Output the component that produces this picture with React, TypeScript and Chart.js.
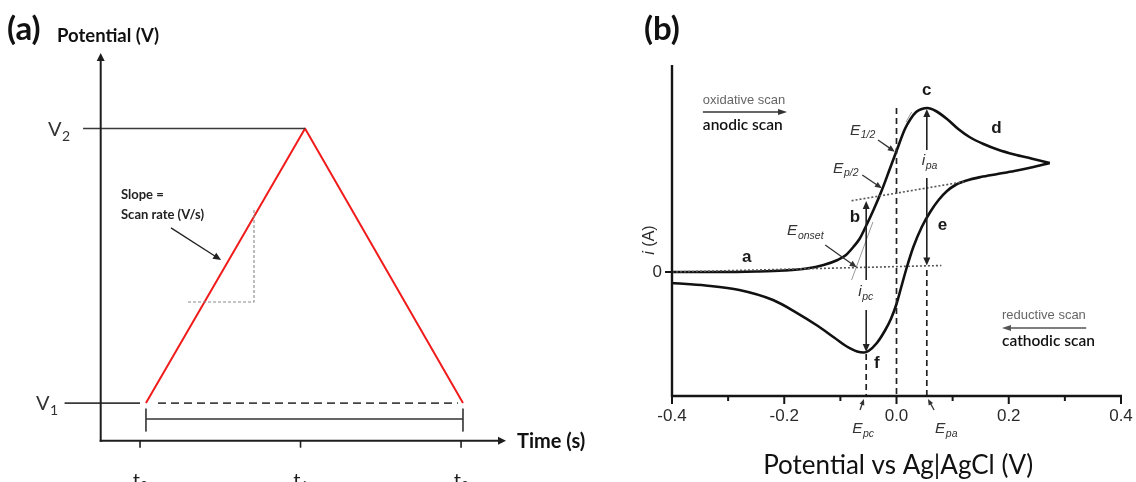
import React, { useEffect, useRef } from "react";
import { Chart, registerables } from "chart.js";
Chart.register(...registerables);

// ---------------- Panel (a): triangular potential waveform ----------------
const timeTickValues = [0, 1, 2];
const timeTickSubs = ["0", "1", "2"];
const rampTime = [0.037, 1.028, 2.012];
const rampPotential = [0, 1, 0];
const levelValues = [0, 1]; // V1, V2
const levelSubs = ["1", "2"];
const v2GuideTime = [-0.355, 1.028];
const v1SolidTime = [-0.47, 0.0];
const v1DashTime = [0.112, 1.98];
const bracketTime = [0.037, 2.012];
const bracketLevel = -0.058;
const bracketCap = [-0.022, -0.102];
const slopeBoxTime = [0.299, 0.71];
const slopeBoxPotential = [0.368, 0.71];
const slopeArrowTime = [0.193, 0.505];
const slopeArrowPotential = [0.638, 0.521];
const timeRange = [-0.245, 2.28];
const potentialRange = [-0.137, 1.275];

// ---------------- Panel (b): cyclic voltammogram ----------------
const anodicE = [-0.4, -0.32, -0.25, -0.2, -0.16, -0.13, -0.105, -0.09, -0.077, -0.066, -0.056, -0.041, -0.026, -0.012, 0.0, 0.015, 0.025, 0.035, 0.045, 0.055, 0.07, 0.09, 0.11, 0.13, 0.155, 0.18, 0.21, 0.24, 0.273];
const anodicI = [0.0, 0.0, 0.005, 0.015, 0.035, 0.07, 0.12, 0.17, 0.25, 0.33, 0.44, 0.62, 0.82, 1.03, 1.21, 1.43, 1.53, 1.6, 1.63, 1.64, 1.61, 1.53, 1.43, 1.35, 1.28, 1.225, 1.175, 1.135, 1.09];
const cathodicE = [0.273, 0.24, 0.21, 0.18, 0.15, 0.125, 0.105, 0.09, 0.075, 0.06, 0.045, 0.03, 0.018, 0.008, 0.0, -0.01, -0.02, -0.035, -0.05, -0.058, -0.07, -0.09, -0.11, -0.14, -0.18, -0.22, -0.28, -0.34, -0.4];
const cathodicI = [1.09, 1.045, 1.01, 0.98, 0.95, 0.915, 0.87, 0.81, 0.72, 0.6, 0.45, 0.25, 0.04, -0.16, -0.32, -0.47, -0.58, -0.71, -0.79, -0.805, -0.795, -0.74, -0.66, -0.54, -0.4, -0.28, -0.18, -0.135, -0.11];
const baselineE = [-0.4, 0.08];
const baselineI = [0.0, 0.065];
const upperBaseE = [-0.08, 0.12];
const upperBaseI = [0.713, 0.903];
const onsetTangentE = [-0.08, -0.042];
const onsetTangentI = [-0.08, 0.5];
const halfTangentE = [0.017, 0.027];
const halfTangentI = [1.5, 1.6];
const peakE = { pc: -0.054, half: 0.0, pa: 0.054 };
const dashTopI = { pc: -0.82, half: 1.64, pa: 0.02 };
const ipaSegments = [[1.63, 1.22], [0.94, 0.065]];
const ipcSegments = [[0.71, -0.08], [-0.38, -0.8]];
const xTickValues = [-0.4, -0.3, -0.2, -0.1, 0, 0.1, 0.2, 0.3, 0.4];
const xTickLabels = ["-0.4", "", "-0.2", "", "0.0", "", "0.2", "", "0.4"];
const pointLetters = ["a", "b", "c", "d", "e", "f"];
const letterE = [-0.267, -0.074, 0.054, 0.178, 0.082, -0.035];
const letterI = [0.15, 0.55, 1.82, 1.44, 0.47, -0.91];
const ERange = [-0.4, 0.4];
const IRange = [-1.24, 2.07];

type Pt = { x: number; y: number };
const zip = (xs: number[], ys: number[]): Pt[] => xs.map((x, i) => ({ x, y: ys[i] }));

const ds = (data: Pt[], color: string, width: number, dash: number[] = [], smooth = false) => ({
  data,
  borderColor: color,
  backgroundColor: color,
  borderWidth: width,
  borderDash: dash,
  showLine: true,
  pointRadius: 0,
  pointHoverRadius: 0,
  fill: false,
  clip: false as any,
  tension: smooth ? 0.4 : 0,
  cubicInterpolationMode: smooth ? ("monotone" as const) : ("default" as const),
  borderCapStyle: "butt" as const,
  borderJoinStyle: "round" as const,
});

function head(ctx: CanvasRenderingContext2D, x: number, y: number, ang: number, len: number, hw: number, color: string) {
  ctx.save();
  ctx.translate(x, y);
  ctx.rotate(ang);
  ctx.beginPath();
  ctx.moveTo(0, 0);
  ctx.lineTo(-len, -hw);
  ctx.lineTo(-len, hw);
  ctx.closePath();
  ctx.fillStyle = color;
  ctx.fill();
  ctx.restore();
}
function arrow(ctx: CanvasRenderingContext2D, x1: number, y1: number, x2: number, y2: number, color: string, width: number, len: number, hw: number) {
  const ang = Math.atan2(y2 - y1, x2 - x1);
  ctx.save();
  ctx.setLineDash([]);
  ctx.strokeStyle = color;
  ctx.lineWidth = width;
  ctx.beginPath();
  ctx.moveTo(x1, y1);
  ctx.lineTo(x2 - Math.cos(ang) * len * 0.7, y2 - Math.sin(ang) * len * 0.7);
  ctx.stroke();
  ctx.restore();
  head(ctx, x2, y2, ang, len, hw, color);
}
function seg(ctx: CanvasRenderingContext2D, x1: number, y1: number, x2: number, y2: number) {
  ctx.beginPath();
  ctx.moveTo(x1, y1);
  ctx.lineTo(x2, y2);
  ctx.stroke();
}
function subText(ctx: CanvasRenderingContext2D, x: number, y: number, main: string, sub: string, mainFont: string, subFont: string, color: string, dy: number, align: "left" | "center" = "left") {
  ctx.save();
  ctx.fillStyle = color;
  ctx.textBaseline = "alphabetic";
  ctx.font = mainFont;
  const w1 = ctx.measureText(main).width;
  ctx.font = subFont;
  const w2 = ctx.measureText(sub).width;
  const start = align === "center" ? x - (w1 + w2) / 2 : x;
  ctx.textAlign = "left";
  ctx.font = mainFont;
  ctx.fillText(main, start, y);
  ctx.font = subFont;
  ctx.fillText(sub, start + w1 + 0.5, y + dy);
  ctx.restore();
}

const panelAPlugin = {
  id: "panelA",
  afterDraw(chart: any) {
    const { ctx, chartArea } = chart;
    const x = chart.scales.x;
    const y = chart.scales.y;
    const ink = "#1e1e1e";
    ctx.save();
    ctx.strokeStyle = ink;
    ctx.lineWidth = 2;
    const ox = chartArea.left;
    const oy = chartArea.bottom;
    seg(ctx, ox, oy + 1, ox, chartArea.top + 6);
    head(ctx, ox, chartArea.top, -Math.PI / 2, 8, 4, ink);
    seg(ctx, ox - 1, oy, chartArea.right - 6, oy);
    head(ctx, chartArea.right, oy, 0, 8, 4, ink);
    ctx.lineWidth = 1.6;
    timeTickValues.forEach((t, i) => {
      const px = x.getPixelForValue(t);
      seg(ctx, px, oy, px, oy + 7);
      subText(ctx, px, 487, "t", timeTickSubs[i], "20px Lato", "13px Lato", ink, 4, "center");
    });
    levelValues.forEach((v, i) => {
      const py = y.getPixelForValue(v);
      subText(ctx, i === 0 ? 36 : 48, py + 7, "V", levelSubs[i], "20px Lato", "14px Lato", "#333", 5);
    });
    ctx.fillStyle = "#111";
    ctx.textBaseline = "middle";
    ctx.textAlign = "left";
    ctx.font = "bold 33px Lato";
    ctx.fillText("(a)", 7, 29);
    ctx.font = "bold 18.5px Lato";
    ctx.fillText("Potential (V)", 57, 36);
    ctx.font = "bold 20px Lato";
    ctx.fillText("Time (s)", 517, oy + 1);
    ctx.font = "bold 13px Lato";
    ctx.fillStyle = "#222";
    ctx.fillText("Slope =", 121, 195);
    ctx.fillText("Scan rate (V/s)", 121, 215);
    arrow(
      ctx,
      x.getPixelForValue(slopeArrowTime[0]),
      y.getPixelForValue(slopeArrowPotential[0]),
      x.getPixelForValue(slopeArrowTime[1]),
      y.getPixelForValue(slopeArrowPotential[1]),
      "#222",
      1.3,
      8,
      3.5
    );
    ctx.restore();
  },
};

const panelBPlugin = {
  id: "panelB",
  afterDraw(chart: any) {
    const { ctx, chartArea } = chart;
    const x = chart.scales.x;
    const y = chart.scales.y;
    const X = (v: number) => x.getPixelForValue(v);
    const Y = (v: number) => y.getPixelForValue(v);
    const ink = "#151515";
    const gray = "#333";
    ctx.save();
    ctx.strokeStyle = ink;
    ctx.lineWidth = 2.4;
    seg(ctx, chartArea.left, chartArea.top, chartArea.left, chartArea.bottom + 1);
    seg(ctx, chartArea.left - 1, chartArea.bottom, chartArea.right + 1, chartArea.bottom);
    ctx.lineWidth = 2;
    xTickValues.forEach((v, i) => {
      const px = X(v);
      const major = xTickLabels[i] !== "";
      seg(ctx, px, chartArea.bottom, px, chartArea.bottom + (major ? 8 : 5));
      if (major) {
        ctx.fillStyle = "#2a2a2a";
        ctx.font = "17px 'Liberation Sans'";
        ctx.textAlign = "center";
        ctx.textBaseline = "middle";
        ctx.fillText(xTickLabels[i], px, Y(-1.44));
      }
    });
    seg(ctx, chartArea.left - 7, Y(0), chartArea.left, Y(0));
    ctx.fillStyle = "#2a2a2a";
    ctx.font = "17px 'Liberation Sans'";
    ctx.textAlign = "right";
    ctx.textBaseline = "middle";
    ctx.fillText("0", chartArea.left - 10, Y(0));
    ctx.save();
    ctx.translate(50, Y(0.32));
    ctx.rotate(-Math.PI / 2);
    ctx.textAlign = "left";
    ctx.font = "italic 16px 'Liberation Sans'";
    const wi = ctx.measureText("i").width;
    ctx.font = "16px 'Liberation Sans'";
    const wr = ctx.measureText(" (A)").width;
    ctx.font = "italic 16px 'Liberation Sans'";
    ctx.fillText("i", -(wi + wr) / 2, 0);
    ctx.font = "16px 'Liberation Sans'";
    ctx.fillText(" (A)", -(wi + wr) / 2 + wi, 0);
    ctx.restore();
    ctx.fillStyle = "#111";
    ctx.font = "26px Lato";
    ctx.textAlign = "center";
    ctx.textBaseline = "middle";
    ctx.fillText("Potential vs Ag|AgCl (V)", X(0.003), 466);
    ctx.font = "bold 33px Lato";
    ctx.textAlign = "left";
    ctx.fillText("(b)", 44, 29);
    ctx.textAlign = "left";
    ctx.textBaseline = "middle";
    ctx.fillStyle = "#666";
    ctx.font = "13px 'Liberation Sans'";
    ctx.fillText("oxidative scan", X(-0.345), Y(1.72));
    arrow(ctx, X(-0.345), Y(1.6), X(-0.195), Y(1.6), "#333", 1.5, 9, 3);
    ctx.fillStyle = "#111";
    ctx.font = "600 15.5px Lato";
    ctx.fillText("anodic scan", X(-0.345), Y(1.47));
    ctx.fillStyle = "#666";
    ctx.font = "13px 'Liberation Sans'";
    ctx.fillText("reductive scan", X(0.188), Y(-0.43));
    arrow(ctx, X(0.338), Y(-0.56), X(0.188), Y(-0.56), "#555", 1.5, 9, 3);
    ctx.fillStyle = "#111";
    ctx.font = "600 15.5px Lato";
    ctx.fillText("cathodic scan", X(0.188), Y(-0.69));
    ctx.fillStyle = "#1a1a1a";
    ctx.font = "bold 17px 'Liberation Sans'";
    ctx.textAlign = "center";
    pointLetters.forEach((l, i) => ctx.fillText(l, X(letterE[i]), Y(letterI[i])));
    const mf = "italic 15.5px 'Liberation Sans'";
    const sf = "italic 10.5px 'Liberation Sans'";
    subText(ctx, X(-0.083), Y(1.37), "E", "1/2", mf, sf, gray, 3);
    arrow(ctx, X(-0.033), Y(1.32), X(-0.003), Y(1.203), gray, 1.3, 7, 3);
    subText(ctx, X(-0.113), Y(0.99), "E", "p/2", mf, sf, gray, 3);
    arrow(ctx, X(-0.061), Y(0.97), X(-0.026), Y(0.837), gray, 1.3, 7, 3);
    subText(ctx, X(-0.195), Y(0.37), "E", "onset", mf, sf, gray, 4);
    arrow(ctx, X(-0.127), Y(0.27), X(-0.071), Y(0.047), gray, 1.3, 7, 3);
    subText(ctx, X(-0.079), Y(-1.61), "E", "pc", mf, sf, gray, 4);
    arrow(ctx, X(-0.065), Y(-1.38), X(-0.058), Y(-1.27), gray, 1.3, 6, 2.5);
    subText(ctx, X(0.0686), Y(-1.61), "E", "pa", mf, sf, gray, 4);
    arrow(ctx, X(0.067), Y(-1.38), X(0.056), Y(-1.27), gray, 1.3, 6, 2.5);
    const pa = X(peakE.pa);
    ctx.strokeStyle = "#222";
    ctx.lineWidth = 1.6;
    seg(ctx, pa, Y(ipaSegments[0][0]) + 6, pa, Y(ipaSegments[0][1]));
    head(ctx, pa, Y(ipaSegments[0][0]), -Math.PI / 2, 8, 3.5, "#222");
    seg(ctx, pa, Y(ipaSegments[1][0]), pa, Y(ipaSegments[1][1]) - 6);
    head(ctx, pa, Y(ipaSegments[1][1]), Math.PI / 2, 8, 3.5, "#222");
    subText(ctx, pa - 5, Y(1.07), "i", "pa", mf, sf, gray, 4);
    const pc = X(peakE.pc);
    seg(ctx, pc, Y(ipcSegments[0][0]) + 6, pc, Y(ipcSegments[0][1]));
    head(ctx, pc, Y(ipcSegments[0][0]), -Math.PI / 2, 8, 3.5, "#222");
    seg(ctx, pc, Y(ipcSegments[1][0]), pc, Y(ipcSegments[1][1]) - 6);
    head(ctx, pc, Y(ipcSegments[1][1]), Math.PI / 2, 8, 3.5, "#222");
    subText(ctx, pc - 8, Y(-0.24), "i", "pc", mf, sf, gray, 4);
    ctx.restore();
  },
};

const baseOptions = (xr: number[], yr: number[], padding: any) => ({
  responsive: false,
  animation: false as const,
  devicePixelRatio: 1,
  events: [] as any[],
  layout: { padding },
  plugins: { legend: { display: false }, tooltip: { enabled: false } },
  scales: {
    x: { type: "linear" as const, min: xr[0], max: xr[1], display: false },
    y: { type: "linear" as const, min: yr[0], max: yr[1], display: false },
  },
});

export default function App() {
  const aRef = useRef<HTMLCanvasElement>(null);
  const bRef = useRef<HTMLCanvasElement>(null);
  useEffect(() => {
    const red = "#f01c1c";
    const chartA = new Chart(aRef.current!, {
      type: "scatter",
      data: {
        datasets: [
          ds(zip(v2GuideTime, [levelValues[1], levelValues[1]]), "#3a3a3a", 1.6),
          ds(zip(v1SolidTime, [levelValues[0], levelValues[0]]), "#3a3a3a", 1.6),
          ds(zip(v1DashTime, [levelValues[0], levelValues[0]]), "#444", 1.6, [8, 5]),
          ds([
            { x: slopeBoxTime[0], y: slopeBoxPotential[0] },
            { x: slopeBoxTime[1], y: slopeBoxPotential[0] },
            { x: slopeBoxTime[1], y: slopeBoxPotential[1] },
          ], "#8a8a8a", 1.1, [3, 2]),
          ds(zip(bracketTime, [bracketLevel, bracketLevel]), "#333", 1.6),
          ds(zip([bracketTime[0], bracketTime[0]], bracketCap), "#333", 1.6),
          ds(zip([bracketTime[1], bracketTime[1]], bracketCap), "#333", 1.6),
          ds(zip(rampTime, rampPotential), red, 2),
        ],
      },
      options: baseOptions(timeRange, potentialRange, { left: 100.7, right: 94, top: 53, bottom: 41.3 }) as any,
      plugins: [panelAPlugin],
    });
    const chartB = new Chart(bRef.current!, {
      type: "scatter",
      data: {
        datasets: [
          ds(zip(baselineE, baselineI), "#555", 1.6, [2, 2]),
          ds(zip(upperBaseE, upperBaseI), "#555", 1.6, [2, 2]),
          ds(zip(onsetTangentE, onsetTangentI), "#9a9a9a", 1),
          ds(zip(halfTangentE, halfTangentI), "#9a9a9a", 1),
          ds(zip([peakE.half, peakE.half], [dashTopI.half, IRange[0]]), "#222", 1.7, [6, 4]),
          ds(zip([peakE.pc, peakE.pc], [dashTopI.pc, IRange[0]]), "#222", 1.7, [6, 4]),
          ds(zip([peakE.pa, peakE.pa], [dashTopI.pa, IRange[0]]), "#222", 1.7, [6, 4]),
          ds(zip(anodicE, anodicI), "#111", 2.6, [], true),
          ds(zip(cathodicE, cathodicI), "#111", 2.6, [], true),
        ],
      },
      options: baseOptions(ERange, IRange, { left: 72, right: 15, top: 65, bottom: 86 }) as any,
      plugins: [panelBPlugin],
    });
    return () => {
      chartA.destroy();
      chartB.destroy();
    };
  }, []);
  return (
    <div style={{ position: "fixed", left: 0, top: 0, width: 1136, height: 482, background: "#fff", overflow: "hidden" }}>
      <canvas ref={aRef} width={600} height={482} style={{ position: "absolute", left: 0, top: 0, width: 600, height: 482 }} />
      <canvas ref={bRef} width={536} height={482} style={{ position: "absolute", left: 600, top: 0, width: 536, height: 482 }} />
    </div>
  );
}
